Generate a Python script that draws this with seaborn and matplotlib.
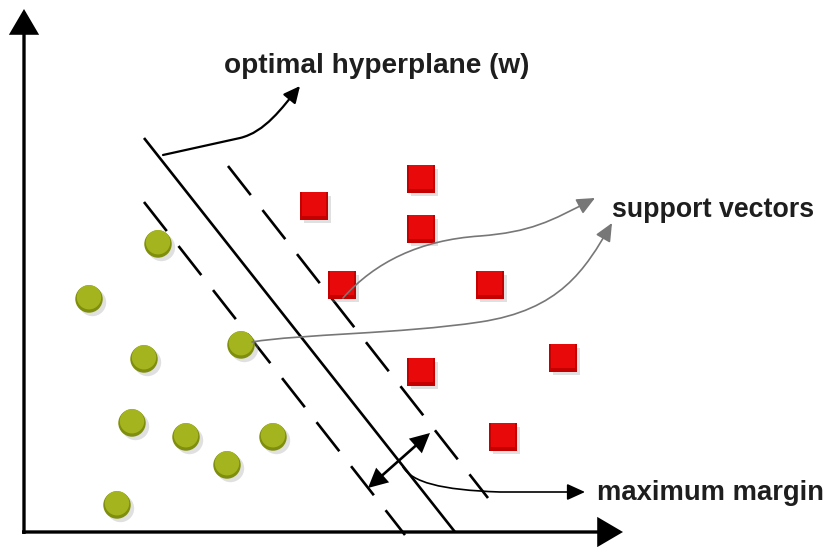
import matplotlib
matplotlib.use("Agg")
import matplotlib.pyplot as plt
import matplotlib.patheffects as pe
from matplotlib.patches import FancyArrowPatch
from matplotlib.path import Path
import seaborn as sns
import pandas as pd

# points in picture coordinates (x right, y down)
circle_x = [158, 89, 144, 241, 132, 186, 273, 227, 117]
circle_y = [244, 299, 359, 345, 423, 437, 437, 465, 505]
square_x = [314, 421, 421, 342, 490, 563, 421, 503]
square_y = [206, 179, 229, 285, 285, 358, 372, 437]

# separating lines (start, end)
hyper_x = [144, 455]
hyper_y = [138, 532]
lower_x = [144, 405]
lower_y = [202, 535]
upper_x = [228, 488]
upper_y = [166, 498]

labels = ["optimal hyperplane (w)", "support vectors", "maximum margin"]

sns.set_style("white")
plt.rcParams["font.family"] = ["Liberation Sans", "DejaVu Sans"]

fig = plt.figure(figsize=(8.32, 5.47), dpi=100)
ax = fig.add_axes([0, 0, 1, 1])

df = pd.DataFrame({
    "x": circle_x + square_x,
    "y": circle_y + square_y,
    "cls": ["a"] * len(circle_x) + ["b"] * len(square_x),
})
shadow = [pe.SimplePatchShadow(offset=(2.5, -2.5), shadow_rgbFace="0.6", alpha=0.3), pe.Normal()]

# base (darker) markers with shadow
sns.scatterplot(data=df, x="x", y="y", hue="cls", style="cls",
                markers={"a": "o", "b": "s"},
                palette={"a": "#7f8e0c", "b": "#c40000"},
                s=390, linewidth=0, legend=False, ax=ax, zorder=3,
                path_effects=shadow)
# lighter top part for a gradient look
df_top = df.copy()
df_top["y"] = df_top["y"] - 1.8
sns.scatterplot(data=df_top, x="x", y="y", hue="cls", style="cls",
                markers={"a": "o", "b": "s"},
                palette={"a": "#a4b41e", "b": "#e80a0a"},
                s=310, linewidth=0, legend=False, ax=ax, zorder=4)

# lines
lw = 1.9
ax.plot(hyper_x, hyper_y, color="black", lw=lw, zorder=2, solid_capstyle="butt")
for xs, ys in [(lower_x, lower_y), (upper_x, upper_y)]:
    ax.plot(xs, ys, color="black", lw=lw, zorder=2, linestyle=(0, (14.0, 7.2)),
            dash_capstyle="butt")

# axes with arrows
def arrow(p0, p1, style, lw, color="black"):
    a = FancyArrowPatch(p0, p1, arrowstyle=style, lw=lw, color=color,
                        shrinkA=0, shrinkB=0, mutation_scale=1, zorder=5,
                        joinstyle="miter", capstyle="butt")
    ax.add_patch(a)

arrow((24, 534), (24, 9), "-|>,head_length=15,head_width=8.8", 2.4)
arrow((22, 532), (623, 532), "-|>,head_length=15,head_width=8.8", 2.4)
arrow((368, 488), (430, 433), "<|-|>,head_length=11,head_width=5.5", 1.9)

def curve(verts, codes, color, lw, head):
    p = FancyArrowPatch(path=Path(verts, codes), arrowstyle=head, lw=lw,
                        color=color, mutation_scale=1, zorder=5)
    ax.add_patch(p)

M, L, C = Path.MOVETO, Path.LINETO, Path.CURVE4
curve([(163, 155), (240, 138), (265, 132), (282, 108), (300, 86)],
      [M, L, C, C, C], "black", 1.6, "-|>,head_length=10,head_width=4.8")
curve([(343, 298), (375, 262), (420, 240), (480, 236), (530, 232), (550, 222), (595, 198)],
      [M, C, C, C, C, C, C], "#777777", 1.2, "-|>,head_length=11,head_width=5")
curve([(252, 342), (300, 334), (400, 334), (480, 322), (560, 310), (585, 270), (612, 223)],
      [M, C, C, C, C, C, C], "#777777", 1.2, "-|>,head_length=11,head_width=5")
curve([(403, 467), (412, 482), (440, 490), (500, 492), (585, 492)],
      [M, C, C, C, L], "black", 1.2, "-|>,head_length=11,head_width=5")

txt = dict(weight="bold", color="#1e1e1e", va="baseline", ha="left")
ax.text(224, 73, labels[0], fontsize=20.2, **txt)
ax.text(612, 217, labels[1], fontsize=19.3, **txt)
ax.text(597, 500, labels[2], fontsize=19.7, **txt)

ax.set_xlim(0, 832)
ax.set_ylim(547, 0)
ax.axis("off")
fig.savefig("out.png", dpi=100)
